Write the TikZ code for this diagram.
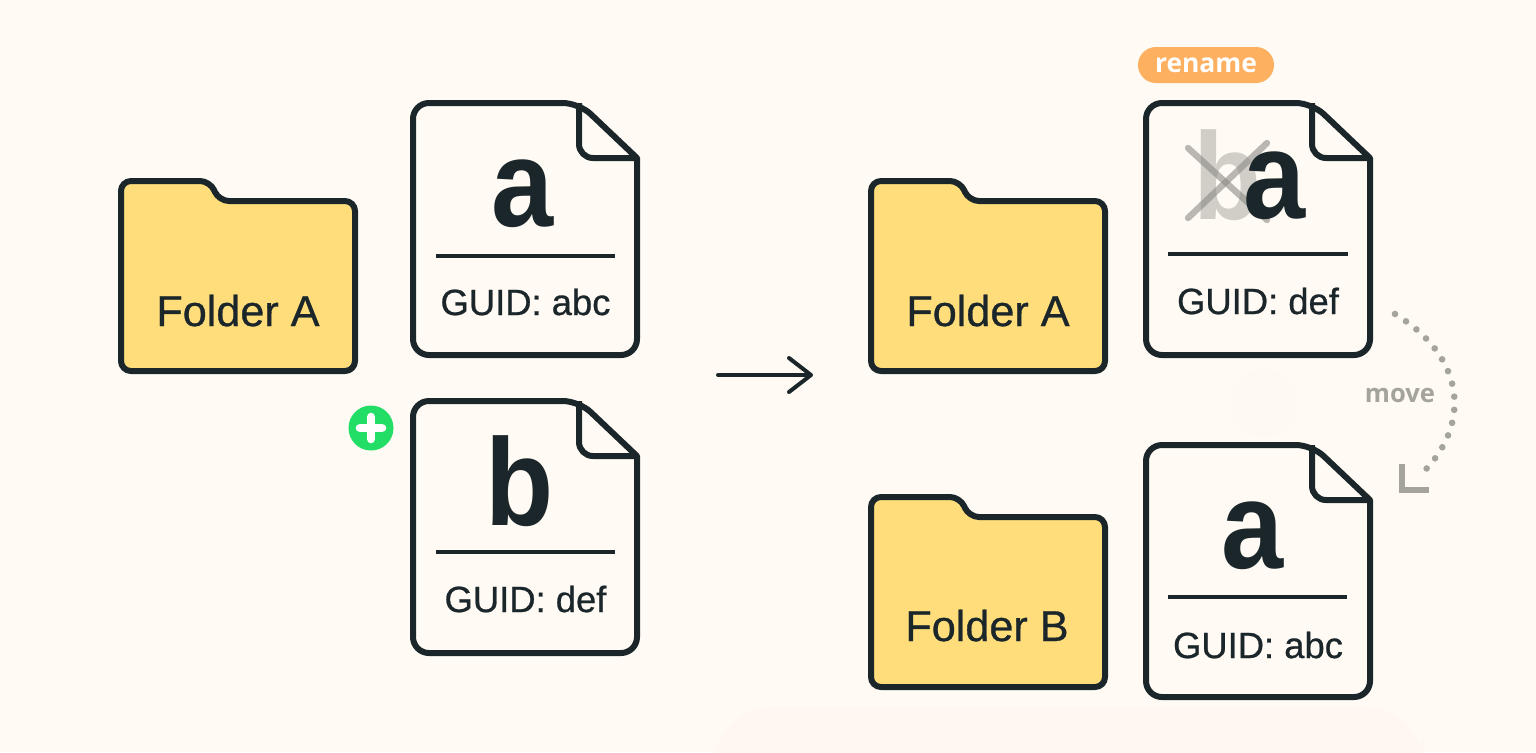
\documentclass[tikz,border=0pt]{standalone}
\usepackage{xcolor}
\usepackage{fontspec}
\setmainfont{Liberation Sans}[RawFeature={embolden=0.7}]
\newfontfamily\tagfont{Open Sans}[BoldFont={Open Sans Bold}]
\newfontfamily\letterfont{Liberation Sans Bold}[FakeStretch=0.9]
\usetikzlibrary{arrows.meta,positioning}

\definecolor{paper}{HTML}{FFFBF4}
\definecolor{ink}{HTML}{1B262B}
\definecolor{folderfill}{HTML}{FEDD7A}
\definecolor{tagorange}{HTML}{FDB05F}
\definecolor{addgreen}{HTML}{22DD66}
\definecolor{movegrey}{HTML}{A4A39C}

\begin{document}
\begin{tikzpicture}[
    x=0.5pt, y=-0.5pt,
    outline/.style={draw=ink, line width=3pt, line join=round},
    rule/.style={draw=ink, line width=1.6pt},
    bigletter/.style={anchor=base, font=\letterfont\fontsize{62}{62}\selectfont, text=ink, inner sep=0pt},
    guid/.style={anchor=base, font=\fontsize{18.2}{20}\selectfont, text=ink, inner sep=0pt},
    foldername/.style={anchor=base, font=\fontsize{21.6}{24}\selectfont, text=ink, inner sep=0pt},
    movemark/.style={draw=movegrey, line width=2.8pt},
    strike/.style={draw=black!45!paper, line width=3.2pt, line cap=round, opacity=0.6},
    pics/docfile/.style={code={
        \draw[outline, fill=paper, rounded corners=8pt] (0,126) -- (0,0) -- (166,0) [sharp corners] -- (224,55) [rounded corners=8pt] -- (224,252) -- (0,252) -- cycle;
        \draw[outline, rounded corners=7pt] (166,0) -- (166,55) -- (224,55);
    }},
    pics/foldershape/.style={code={
        \draw[outline, fill=folderfill, rounded corners=5pt] (0,95) -- (0,0) -- (89,0) -- (98,20) -- (234,20) -- (234,190) -- (0,190) -- cycle;
    }}
]

% Background
\fill[paper] (0,0) rectangle (1536,752);
\useasboundingbox (0,0) rectangle (1536,752);
\fill[red!1.5!paper, rounded corners=30pt] (714,706) rectangle (1424,790);
\fill[red!0.6!paper] (1264,403) circle (34);

% Left side
\pic at (121,181) {foldershape};
\node[foldername] (folderA) at (238,326) {Folder A};
\pic at (413,103) {docfile};
\node[bigletter] (letterA) at (523,226) {a};
\draw[rule] (436,256) -- (615,256);
\node[guid] (guidA) at (525.5,315) {GUID: abc};
\pic at (413,401) {docfile};
\node[bigletter] (letterB) at (520,525) {b};
\draw[rule] (436,552) -- (615,552);
\node[guid] (guidB) at (525.5,612) {GUID: def};

% Added badge
\node[circle, fill=addgreen, minimum size=22.5pt, inner sep=0pt] (badge) at (371,428) {};
\draw[white, line width=4.3pt, line cap=round] (badge.center) ++(-11,0) -- ++(22,0);
\draw[white, line width=4.3pt, line cap=round] (badge.center) ++(0,-11) -- ++(0,22);

% Arrow between the two states
\coordinate (arrowstart) at (718,375);
\coordinate (arrowend) at (813,375);
\draw[ink, line width=2pt, line cap=round, -{Straight Barb[length=11pt, width=17pt, round]}] (arrowstart) -- (arrowend);

% Right side, top
\pic at (871,181) {foldershape};
\node[foldername] (folderAright) at (988,326) {Folder A};
\pic at (1146,103) {docfile};
\node[bigletter, text=black!18!paper] (oldletter) at (1228,219) {b};
\draw[strike] (1188,148) -- (1267,220);
\draw[strike] (1267,143) -- (1188,218);
\node[bigletter] (letterArename) at (1275,218) {a};
\draw[rule] (1168,254) -- (1348,254);
\node[guid] (guidBright) at (1258,314) {GUID: def};
\node[fill=tagorange, rounded corners=9pt, minimum width=68pt, minimum height=18pt, inner sep=0pt, text=white, font=\tagfont\fontsize{13.2}{14}\selectfont\bfseries] (renametag) at (1206,65) {rename};

% Right side, bottom
\pic at (871,497) {foldershape};
\node[foldername] (folderB) at (987,641) {Folder B};
\pic at (1146,445) {docfile};
\node[bigletter] (letterAmoved) at (1253,568) {a};
\draw[rule] (1168,597) -- (1347,597);
\node[guid] (guidAright) at (1258,658) {GUID: abc};

% Move
\coordinate (movestart) at (1395,314);
\coordinate (moveend) at (1418,477);
\draw[movegrey, line width=3.3pt, line cap=round, dash pattern=on 0pt off 6.6pt] (movestart) .. controls (1470,360) and (1470,430) .. (moveend);
\draw[movemark] (1402,464) -- (1402,490) -- (1429,490);
\node[text=movegrey, inner sep=0pt, font=\tagfont\fontsize{12.8}{14}\selectfont\bfseries] (movelabel) at (1400,395) {move};

\end{tikzpicture}
\end{document}
